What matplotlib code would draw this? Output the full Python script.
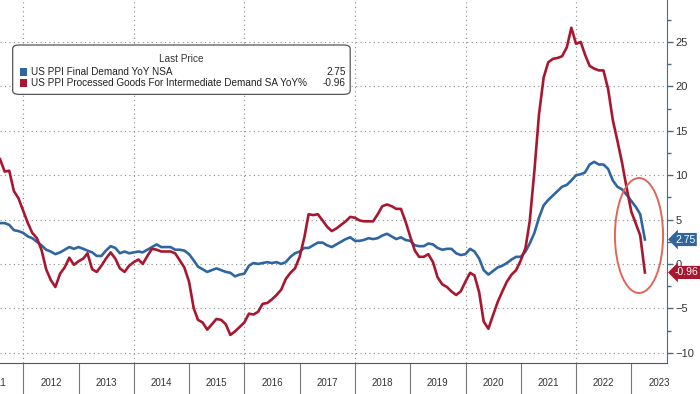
import numpy as np
import pandas as pd
import matplotlib
matplotlib.use("Agg")
import matplotlib.pyplot as plt
import matplotlib.dates as mdates
import matplotlib.transforms as mtransforms
from matplotlib.patches import Ellipse, FancyBboxPatch, Rectangle

plt.rcParams['font.family'] = ['Liberation Sans', 'DejaVu Sans']

# monthly YoY %, Jul 2011 .. Mar 2023
start_month = '2011-07'
final_demand = [
    4.6, 4.6, 4.4, 3.8, 3.7, 3.5,                                   # 2011
    3.1, 2.9, 2.5, 2.1, 1.6, 1.4, 1.1, 1.3, 1.6, 1.9, 1.7, 1.9,     # 2012
    1.7, 1.5, 1.3, 0.9, 0.9, 1.5, 2.0, 1.8, 1.2, 1.4, 1.2, 1.3,     # 2013
    1.4, 1.3, 1.6, 1.9, 2.2, 1.9, 1.9, 1.9, 1.6, 1.6, 1.5, 1.1,     # 2014
    0.4, -0.3, -0.6, -0.9, -0.7, -0.5, -0.7, -0.9, -1.0, -1.4, -1.2, -1.1,  # 2015
    -0.2, 0.1, 0.0, 0.1, 0.2, 0.1, 0.2, 0.0, 0.2, 0.8, 1.2, 1.4,    # 2016
    1.8, 1.8, 2.1, 2.4, 2.4, 2.1, 1.9, 2.2, 2.5, 2.8, 3.0, 2.6,     # 2017
    2.6, 2.7, 2.9, 2.8, 2.9, 3.2, 3.4, 3.1, 2.8, 3.0, 2.7, 2.6,     # 2018
    2.1, 2.0, 2.0, 2.3, 2.2, 1.8, 1.6, 1.7, 1.7, 1.2, 1.0, 1.1,     # 2019
    1.7, 1.4, 0.6, -0.7, -1.2, -0.8, -0.4, -0.2, 0.1, 0.5, 0.8, 0.8,  # 2020
    1.4, 2.3, 3.5, 5.2, 6.6, 7.2, 7.7, 8.2, 8.7, 8.9, 9.4, 10.0,    # 2021
    10.1, 10.3, 11.2, 11.5, 11.2, 11.2, 10.7, 9.4, 8.7, 8.4, 7.8, 7.1,  # 2022
    6.4, 5.6, 2.75,                                                 # 2023
]
intermediate = [
    11.8, 10.4, 10.5, 8.2, 7.4, 6.0,                                # 2011
    4.6, 3.5, 2.9, 1.6, -0.6, -1.8, -2.6, -1.1, -0.4, 0.7, -0.1, 0.3,  # 2012
    0.6, 1.2, -0.6, -0.9, -0.2, 0.6, 1.3, 0.6, -0.5, -0.9, -0.2, 0.2,  # 2013
    0.5, 0.0, 0.9, 1.7, 1.6, 1.4, 1.4, 1.4, 1.2, 0.4, -0.4, -2.0,   # 2014
    -5.0, -6.3, -6.6, -7.4, -6.8, -6.2, -6.3, -6.8, -8.0, -7.6, -7.1, -6.6,  # 2015
    -5.6, -5.7, -5.4, -4.5, -4.4, -4.0, -3.5, -2.9, -1.7, -1.0, -0.5, 0.8,  # 2016
    3.0, 5.6, 5.5, 5.6, 4.9, 4.2, 3.7, 4.0, 4.4, 4.8, 5.3, 5.2,     # 2017
    4.9, 4.8, 4.8, 4.8, 5.6, 6.5, 6.7, 6.5, 6.2, 6.2, 4.8, 3.1,     # 2018
    1.5, 0.8, 0.8, 1.1, 0.2, -1.5, -2.3, -2.6, -3.1, -3.5, -3.1, -2.0,  # 2019
    -1.0, -1.3, -3.2, -6.5, -7.3, -5.8, -4.3, -3.1, -2.0, -1.2, -0.7, 0.4,  # 2020
    1.8, 4.8, 10.5, 16.8, 21.0, 22.7, 23.1, 23.2, 23.4, 24.4, 26.6, 24.8,  # 2021
    25.0, 23.6, 22.3, 22.0, 21.8, 21.8, 19.7, 16.2, 13.9, 11.4, 8.6, 5.9,  # 2022
    4.5, 3.2, -0.96,                                                # 2023
]
labels = ['US PPI Final Demand YoY NSA',
          'US PPI Processed Goods For Intermediate Demand SA YoY%']
last_values = ['2.75', '-0.96']
years = list(range(2011, 2024))
y_ticks = [-10, -5, 0, 5, 10, 15, 20, 25]

blue = '#2f66a0'
red = '#a8172f'
axis_col = '#4d6a86'

dates = pd.date_range(start_month, periods=len(final_demand), freq='MS') + pd.offsets.MonthEnd(0)

fig = plt.figure(figsize=(7, 3.94), dpi=100)
ax = fig.add_axes([0, 31 / 394, 667 / 700, 363 / 394])

ax.plot(dates, final_demand, color=blue, lw=1.9, zorder=3)
ax.plot(dates, intermediate, color=red, lw=1.9, zorder=3)

ax.set_xlim(pd.Timestamp('2011-07-31'), pd.Timestamp('2023-08-24'))
ax.set_ylim(-11.16, 29.73)

# grid
for y in y_ticks:
    ax.axhline(y, color='#8a8a8a', lw=0.8, ls=(0, (1, 3)), zorder=1)
for yr in years[1::2]:
    ax.axvline(pd.Timestamp(f'{yr}-01-01'), color='#8a8a8a', lw=0.8, ls=(0, (1, 3)), zorder=1)

# spines and ticks
for s in ['left', 'top']:
    ax.spines[s].set_visible(False)
ax.spines['right'].set_color(axis_col)
ax.spines['bottom'].set_color('#555555')
ax.yaxis.tick_right()
ax.set_yticks(y_ticks)
ax.set_yticks(np.arange(-7.5, 30, 5), minor=True)
ax.tick_params(axis='y', which='both', colors=axis_col, labelcolor='#333333',
               labelsize=8, length=4, width=1, pad=2)
ax.tick_params(axis='y', which='minor', length=3)
ax.set_xticks([])

# year labels with separators below the axis
trans = mtransforms.blended_transform_factory(ax.transData, ax.transAxes)
for yr in years:
    ax.text(pd.Timestamp(f'{yr}-07-01'), -0.055, str(yr), transform=trans,
            ha='center', va='center', fontsize=7, color='#333333', clip_on=False)
    if yr > years[0]:
        ax.plot([pd.Timestamp(f'{yr}-01-01')] * 2, [0, -0.09], transform=trans,
                color='#777777', lw=0.8, clip_on=False)

# circle around the latest readings
cx = mdates.date2num(pd.Timestamp('2023-02-20'))
ax.add_patch(Ellipse((cx, 3.2), 318, 12.95, fill=False, ec='#e0665c', lw=1.4, zorder=4))

# last price tags on right axis
ttrans = mtransforms.blended_transform_factory(ax.transAxes, ax.transData)
for val, col in [(final_demand[-1], blue), (intermediate[-1], red)]:
    ax.text(1.012, val, f'{val:.2f}', transform=ttrans, ha='left', va='center',
            fontsize=7.5, color='white', clip_on=False, zorder=6,
            bbox=dict(boxstyle='larrow,pad=0.15', fc=col, ec='none'))

# legend box
ax.add_patch(FancyBboxPatch((0.019, 0.740), 0.506, 0.136, transform=ax.transAxes,
                            boxstyle='round,pad=0,rounding_size=0.01',
                            fc='white', ec='#555555', lw=0.9, zorder=5))
ax.text(0.272, 0.837, 'Last Price', transform=ax.transAxes, ha='center', va='center',
        fontsize=7.2, color='#333333', zorder=6)
for k, (lab, val, col) in enumerate(zip(labels, last_values, [blue, red])):
    yy = 0.801 - k * 0.031
    ax.add_patch(Rectangle((0.030, yy - 0.011), 0.011, 0.022, transform=ax.transAxes,
                           fc=col, ec='none', zorder=6))
    ax.text(0.047, yy, lab, transform=ax.transAxes, ha='left', va='center',
            fontsize=7.2, color='#222222', zorder=6)
    ax.text(0.518, yy, val, transform=ax.transAxes, ha='right', va='center',
            fontsize=7.2, color='#222222', zorder=6)

fig.savefig('out.png', dpi=100)
